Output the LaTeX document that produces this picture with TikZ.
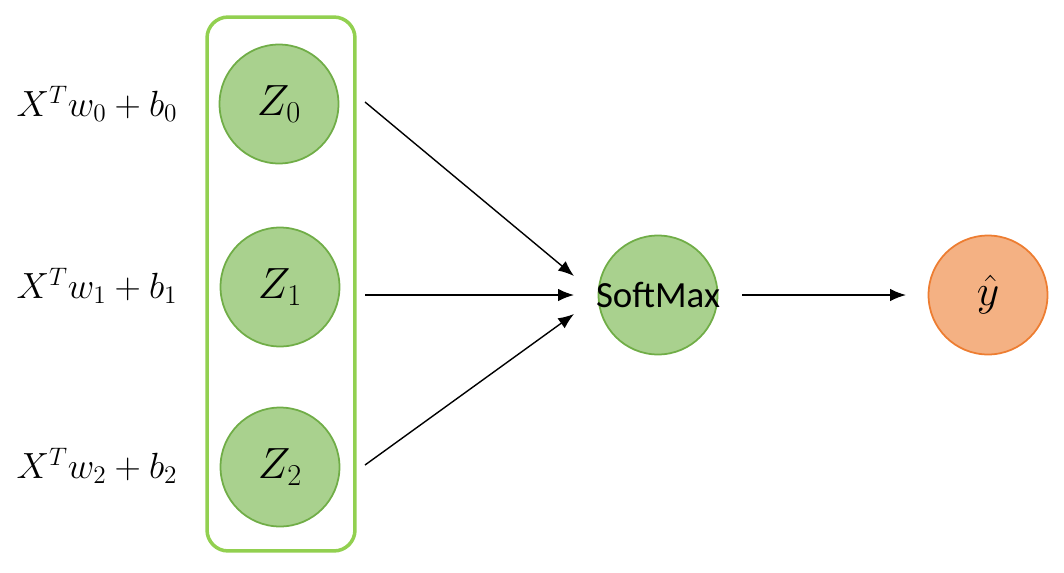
\documentclass[tikz,border=0pt]{standalone}
\usepackage{fontspec}
\newfontfamily\labelsans{Carlito}
\usetikzlibrary{arrows.meta}
\definecolor{nodegreen}{HTML}{A9D18E}
\definecolor{nodegreenline}{HTML}{70AD47}
\definecolor{framegreen}{HTML}{92D050}
\definecolor{outorange}{HTML}{F4B183}
\definecolor{outorangeline}{HTML}{ED7D31}
\tikzset{
  zcircle/.style={circle, draw=nodegreenline, fill=nodegreen, line width=1pt,
    minimum size=2.38cm, inner sep=0pt, font=\fontsize{25}{29}\selectfont},
  outcircle/.style={circle, draw=outorangeline, fill=outorange, line width=1pt,
    minimum size=2.38cm, inner sep=0pt, font=\fontsize{25}{29}\selectfont},
  eqlabel/.style={inner sep=0pt, font=\fontsize{22.5}{27}\selectfont},
  smtext/.style={inner sep=0pt, font=\labelsans\fontsize{21}{25}\selectfont},
  flow/.style={-{Latex[length=9pt,width=7pt]}, line width=0.8pt}
}
\begin{document}
\begin{tikzpicture}[x=0.02cm, y=-0.02cm]
\useasboundingbox (0,0) rectangle (1064,572);
% frame around the three linear units
\node[draw=framegreen, line width=2pt, rounded corners=0.42cm,
  minimum width=2.96cm, minimum height=10.68cm, inner sep=0pt] (frame) at (281,284) {};
% linear units
\node[zcircle] (z0) at (279,104) {$Z_0$};
\node[zcircle] (z1) at (280,287) {$Z_1$};
\node[zcircle] (z2) at (280,467) {$Z_2$};
% pre-activation expressions
\node[eqlabel] (l0) at (97,104) {$X^T w_0 + b_0$};
\node[eqlabel] (l1) at (97,286) {$X^T w_1 + b_1$};
\node[eqlabel] (l2) at (97,466) {$X^T w_2 + b_2$};
% softmax (its label is wider than the circle) and output
\node[zcircle] (sm) at (658,295) {};
\node[smtext] (smlabel) at (sm.center) {SoftMax};
\node[outcircle] (yh) at (988,295) {$\hat{y}$};
% arrow endpoints
\coordinate (a0s) at (365,102);
\coordinate (a0e) at (574,276);
\coordinate (a1s) at (365,295);
\coordinate (a1e) at (574,295);
\coordinate (a2s) at (365,465);
\coordinate (a2e) at (574,314);
\coordinate (a3s) at (742,295);
\coordinate (a3e) at (906,295);
\draw[flow] (a0s) -- (a0e);
\draw[flow] (a1s) -- (a1e);
\draw[flow] (a2s) -- (a2e);
\draw[flow] (a3s) -- (a3e);
\end{tikzpicture}
\end{document}
